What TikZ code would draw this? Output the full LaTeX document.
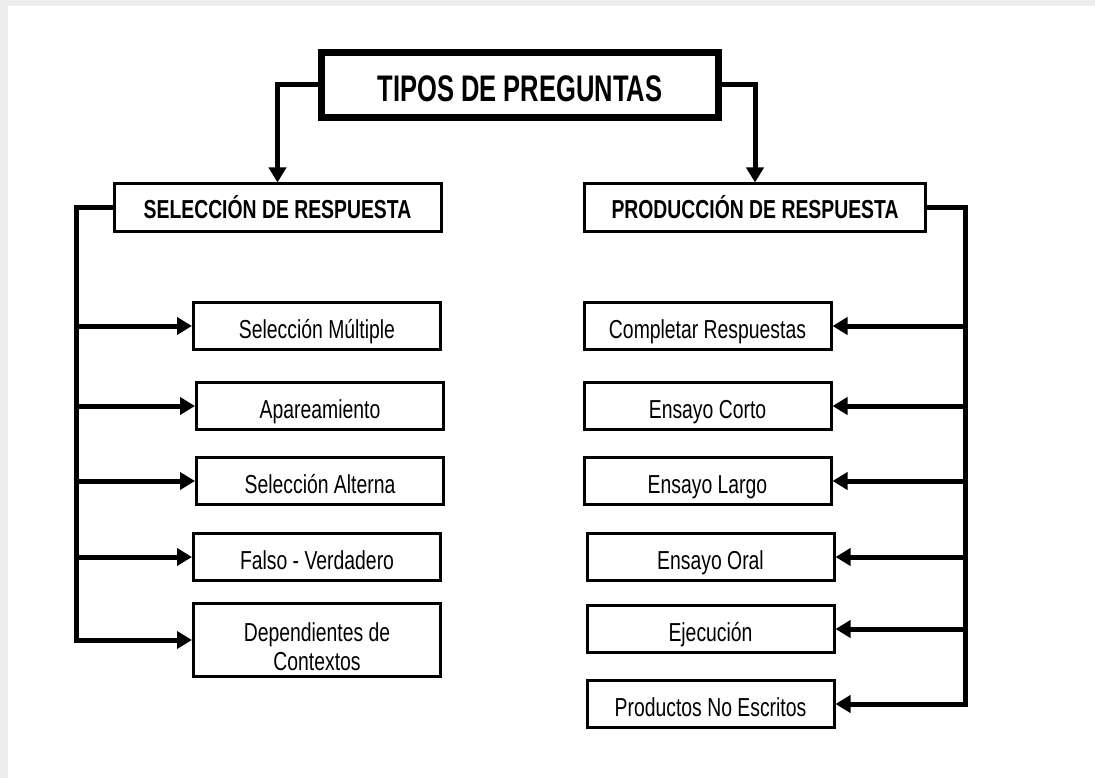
\documentclass[tikz,border=0pt]{standalone}
\usepackage{fontspec}
\newfontfamily\nar[FakeStretch=0.745]{Liberation Sans}
\newfontfamily\narb[FakeStretch=0.69]{Liberation Sans}
\usetikzlibrary{arrows.meta}
\tikzset{
  titlebox/.style={draw, line width=7pt, minimum width=397pt, minimum height=65pt, inner sep=0pt,
    font=\narb\bfseries\fontsize{37}{39}\selectfont, text height=34pt, text depth=0pt},
  headbox/.style={draw, line width=3pt, minimum width=327pt, minimum height=48pt, inner sep=0pt,
    font=\nar\bfseries\fontsize{26}{28}\selectfont, text height=21pt, text depth=0pt},
  childbox/.style={draw, line width=3pt, minimum width=247pt, minimum height=47pt, inner sep=0pt,
    font=\nar\fontsize{26}{29}\selectfont, text height=25pt, text depth=0pt},
  childtext/.style={font=\nar\fontsize{26}{29}\selectfont, inner sep=0pt},
  bus/.style={line width=5pt},
  arr/.style={line width=5pt, -{Triangle[length=15pt,width=17pt]}},
}
\begin{document}
\begin{tikzpicture}[x=1pt,y=-1pt]
\fill[black!7] (0,0) rectangle (1095,778);
\fill[white] (8,6) rectangle (1095,778);
\useasboundingbox (0,0) rectangle (1095,778);

\node[titlebox] (title) at (520,85) {TIPOS DE PREGUNTAS};
\node[headbox] (sel) at (277.5,208) {SELECCIÓN DE RESPUESTA};
\node[headbox, minimum width=341pt] (prod) at (755,208) {PRODUCCIÓN DE RESPUESTA};

\draw[arr] (title.west) -| (sel.north);
\draw[arr] (title.east) -| (prod.north);

% left children
\node[childbox] (c1) at (317,326) {Selección Múltiple};
\node[childbox] (c2) at (320,406) {Apareamiento};
\node[childbox] (c3) at (320,481) {Selección Alterna};
\node[childbox] (c4) at (317,557) {Falso - Verdadero};
\node[childbox, minimum height=73pt] (c5) at (317,640) {};
\node[childtext, align=center] (c5t) at (317,647) {Dependientes de\\Contextos};

% right children
\node[childbox] (r1) at (707.5,326) {Completar Respuestas};
\node[childbox] (r2) at (707.5,406) {Ensayo Corto};
\node[childbox] (r3) at (707.5,481) {Ensayo Largo};
\node[childbox] (r4) at (710.5,557) {Ensayo Oral};
\node[childbox] (r5) at (710.5,629) {Ejecución};
\node[childbox] (r6) at (710.5,704) {Productos No Escritos};

\coordinate (L) at (76,0);
\coordinate (R) at (965,0);

\draw[bus] (sel.west) -- (sel.west -| L) -- ([yshift=-2.5pt]c5.west -| L);
\foreach \n in {c1,c2,c3,c4,c5}
  \draw[arr] ([xshift=-2.5pt]\n.west -| L) -- (\n.west);

\draw[bus] (prod.east) -- (prod.east -| R) -- ([yshift=-2.5pt]r6.east -| R);
\foreach \n in {r1,r2,r3,r4,r5,r6}
  \draw[arr] ([xshift=2.5pt]\n.east -| R) -- (\n.east);
\end{tikzpicture}
\end{document}
